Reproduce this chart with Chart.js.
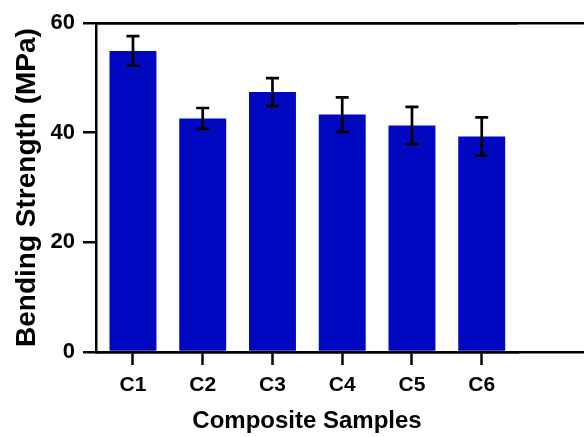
<!DOCTYPE html>
<html>
<head>
<meta charset="utf-8">
<script src="https://cdn.jsdelivr.net/npm/chart.js@4"></script>
<style>
  html, body { margin: 0; padding: 0; background: #fff; }
  #wrap { width: 584px; height: 437px; position: relative; }
</style>
</head>
<body>
<div id="wrap"><canvas id="c"></canvas></div>
<script>
const categories = ['C1', 'C2', 'C3', 'C4', 'C5', 'C6'];
const values = [54.9, 42.6, 47.4, 43.3, 41.3, 39.3];
const errors = [2.7, 1.9, 2.55, 3.15, 3.4, 3.5];
const yTicks = [0, 20, 40, 60];

const FONT = "'Liberation Sans', Arial, Helvetica, sans-serif";
const LINE_W = 2.5;

const errorBarPlugin = {
  id: 'errorBars',
  afterDatasetsDraw(chart) {
    const { ctx, scales: { x, y } } = chart;
    ctx.save();
    ctx.strokeStyle = '#000';
    ctx.lineWidth = 2.7;
    values.forEach((v, i) => {
      const px = x.getPixelForValue(i);
      const top = y.getPixelForValue(v + errors[i]);
      const bot = y.getPixelForValue(v - errors[i]);
      const half = 6.5;
      ctx.beginPath();
      ctx.moveTo(px, top); ctx.lineTo(px, bot);
      ctx.moveTo(px - half, top); ctx.lineTo(px + half, top);
      ctx.moveTo(px - half, bot); ctx.lineTo(px + half, bot);
      ctx.stroke();
    });
    ctx.restore();
  }
};

// the original frame continues past the cropped right edge
const frameExtension = {
  id: 'frameExtension',
  afterDraw(chart) {
    const { ctx, scales: { x, y } } = chart;
    ctx.save();
    ctx.strokeStyle = '#000';
    ctx.lineWidth = LINE_W;
    [yTicks[0], yTicks[yTicks.length - 1]].forEach(v => {
      const p = y.getPixelForValue(v);
      const py = Math.round(p - LINE_W / 2) + LINE_W / 2;
      ctx.beginPath();
      ctx.moveTo(x.left, py);
      ctx.lineTo(chart.width + 2, py);
      ctx.stroke();
    });
    ctx.restore();
  }
};

new Chart(document.getElementById('c'), {
  type: 'bar',
  data: {
    datasets: [{
      data: values.map((v, i) => ({ x: i, y: v })),
      backgroundColor: '#0008c2',
      borderWidth: 0,
      categoryPercentage: 1,
      barPercentage: 0.673
    }]
  },
  options: {
    responsive: true,
    maintainAspectRatio: false,
    animation: false,
    layout: { padding: { top: 23, left: 0, right: 66, bottom: 0 } },
    plugins: { legend: { display: false }, tooltip: { enabled: false } },
    scales: {
      x: {
        type: 'linear',
        min: -0.53,
        max: 5.52,
        offset: false,
        z: 1,
        afterFit: (axis) => { axis.height = 85; },
        afterBuildTicks: (axis) => { axis.ticks = categories.map((_, i) => ({ value: i })); },
        ticks: {
          stepSize: 1,
          autoSkip: false,
          maxRotation: 0,
          color: '#000',
          padding: 8,
          font: { family: FONT, weight: 'bold', size: 21 },
          callback: (v) => categories[v]
        },
        grid: { offset: false, drawOnChartArea: false, tickLength: 13, tickWidth: LINE_W, tickColor: '#000' },
        border: { display: true, color: '#000', width: LINE_W },
        title: {
          display: true,
          text: 'Composite Samples',
          color: '#000',
          font: { family: FONT, weight: 'bold', size: 24 },
          padding: { top: 2.5, bottom: 1 }
        }
      },
      y: {
        min: 0,
        max: 60,
        z: 1,
        afterFit: (axis) => { axis.width = 96; },
        afterBuildTicks: (axis) => { axis.ticks = yTicks.map(v => ({ value: v })); },
        ticks: {
          color: '#000',
          padding: 8,
          font: { family: FONT, weight: 'bold', size: 22 }
        },
        grid: {
          drawOnChartArea: true,
          color: (ctx) => (ctx.tick && ctx.tick.value === 60 ? '#000' : 'rgba(0,0,0,0)'),
          lineWidth: LINE_W,
          tickLength: 13,
          tickWidth: LINE_W,
          tickColor: '#000'
        },
        border: { display: true, color: '#000', width: LINE_W },
        title: {
          display: true,
          text: 'Bending Strength (MPa)',
          color: '#000',
          font: { family: FONT, weight: 'bold', size: 28 },
          padding: { top: 10, bottom: 1 }
        }
      }
    }
  },
  plugins: [errorBarPlugin, frameExtension]
});
</script>
</body>
</html>
